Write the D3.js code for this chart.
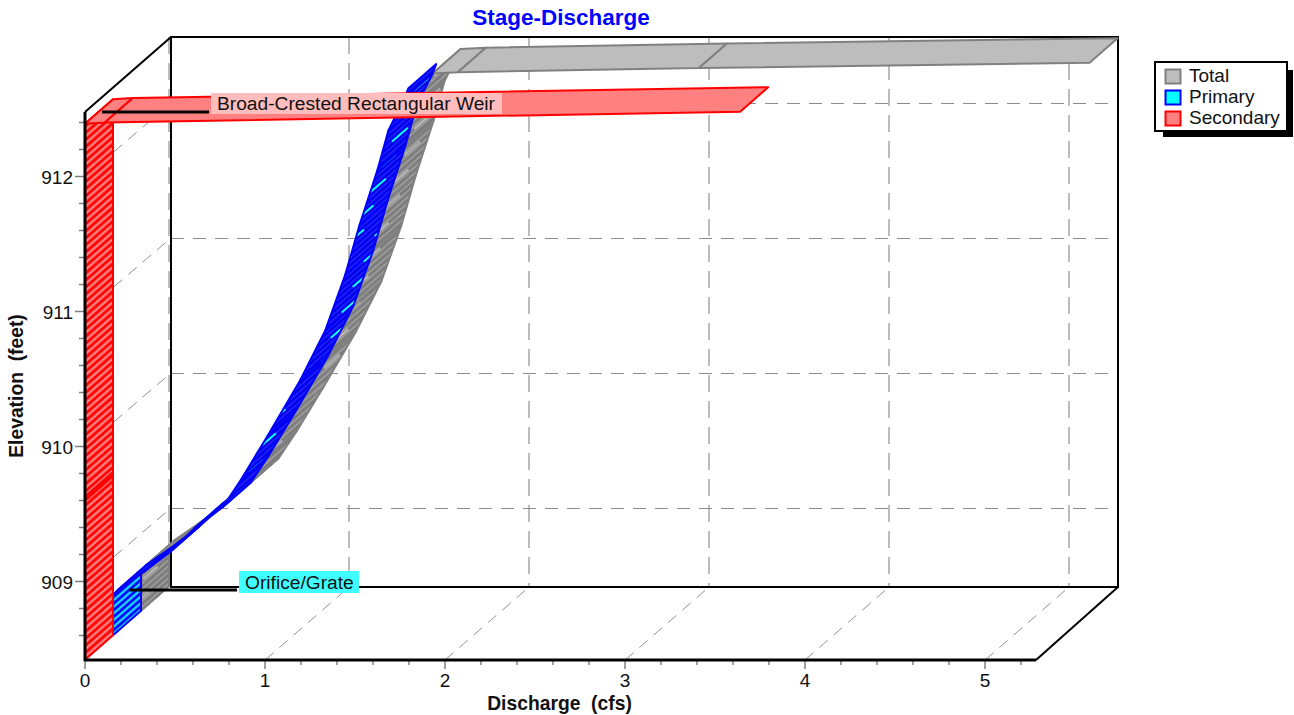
<!DOCTYPE html>
<html>
<head>
<meta charset="utf-8"/>
<title>Stage-Discharge</title>
<script src="https://d3js.org/d3.v7.min.js"></script>
<style>
  body { margin: 0; background: white; }
  text { font-family: "Liberation Sans", Arial, sans-serif; fill: #111; }
</style>
</head>
<body>
<svg id="chart" width="1294" height="715"></svg>
<script>
// values: discharge (cfs) against elevation (feet)
var primaryElev = [908.42, 908.72, 908.76, 908.89, 909.04, 909.21, 909.37, 909.57, 909.90, 910.31, 910.68, 911.09, 911.46, 911.87, 912.16, 912.40, 912.47];
var primaryQ    = [0, 0, 0.03, 0.17, 0.32, 0.45, 0.61, 0.71, 0.86, 1.04, 1.18, 1.29, 1.37, 1.47, 1.53, 1.62, 1.64];

var secondaryElev = [908.42, 909.60, 909.63, 912.39, 912.40, 912.48];
var secondaryQ    = [0, 0, 0, 0, 0.11, 3.64];

var totalElev = [908.42, 908.72, 908.76, 908.89, 909.04, 909.21, 909.37, 909.57, 909.90, 910.31, 910.68, 911.09, 911.46, 911.87, 912.16, 912.40, 912.41, 912.44, 912.48];
var totalQ    = [0, 0, 0.03, 0.17, 0.32, 0.45, 0.61, 0.71, 0.86, 1.04, 1.18, 1.29, 1.37, 1.47, 1.53, 1.62, 1.76, 3.10, 5.27];

var seriesNames = ["Total", "Primary", "Secondary"];
var xTicks = [0, 1, 2, 3, 4, 5];
var yTicks = [909, 910, 911, 912];
var xMinor = d3.range(0, 5.3, 0.2);
var yMinor = d3.range(908.6, 912.5, 0.2);

var svg = d3.select("#chart");

// front face of the box and the back wall
var xFront = d3.scaleLinear([0, 5], [85, 985]);
var xBack  = d3.scaleLinear([0, 5], [169, 1069]);
var yFront = d3.scaleLinear([909, 912], [581.5, 176.5]);
var yBack  = d3.scaleLinear([909, 912], [508, 103]);

// z goes 0 (front) to 1 (back wall)
function px(q, z) { return xFront(q) + z * (xBack(q) - xFront(q)); }
function py(e, z) { return yFront(e) + z * (yBack(e) - yFront(e)); }

var defs = svg.append("defs");

function hatch(id, base, line, pitch, lineWidth, streak) {
    var p = defs.append("pattern").attr("id", id)
        .attr("patternUnits", "userSpaceOnUse")
        .attr("width", 50).attr("height", pitch * 6)
        .attr("patternTransform", "rotate(-41)");
    p.append("rect").attr("width", 50).attr("height", pitch * 6).attr("fill", base);
    d3.range(6).forEach(function(k) {
        p.append("line").attr("x1", 0).attr("x2", 50).attr("y1", (k + 0.5) * pitch).attr("y2", (k + 0.5) * pitch)
            .attr("stroke", line).attr("stroke-width", lineWidth);
    });
    if (streak) {
        p.append("line").attr("x1", 3).attr("x2", 24).attr("y1", pitch).attr("y2", pitch)
            .attr("stroke", streak).attr("stroke-width", 2);
        p.append("line").attr("x1", 28).attr("x2", 47).attr("y1", pitch * 4).attr("y2", pitch * 4)
            .attr("stroke", streak).attr("stroke-width", 2);
    }
}
hatch("hatchTotal", "#7c7c7c", "#a2a2a2", 4.5, 1.5, "#b8b8b8");
hatch("hatchPrimary", "#1c1cff", "#0000e6", 4, 2, "#10ffff");
hatch("hatchSecondary", "#ff8080", "#ff0000", 5.3, 2.8, null);
hatch("hatchPrimaryLow", "#0000ff", "#20ffff", 5, 1.8, null);

// ---- back wall and floor grid
var grid = svg.append("g").attr("fill", "none");

xTicks.forEach(function(v) {
    grid.append("line").attr("x1", xBack(v)).attr("x2", xBack(v)).attr("y1", 37).attr("y2", 587)
        .attr("stroke", "#bcbcbc").attr("stroke-width", 2).attr("stroke-dasharray", "17,9");
    grid.append("line").attr("x1", xFront(v)).attr("y1", 660).attr("x2", xBack(v)).attr("y2", 587)
        .attr("stroke", "#909090").attr("stroke-width", 1).attr("stroke-dasharray", "11,8");
});
yTicks.forEach(function(v) {
    grid.append("line").attr("x1", 171).attr("x2", 1118).attr("y1", yBack(v) + 0.5).attr("y2", yBack(v) + 0.5)
        .attr("stroke", "#8c8c8c").attr("stroke-width", 1).attr("stroke-dasharray", "13,9");
    grid.append("line").attr("x1", 85).attr("y1", yFront(v)).attr("x2", 171).attr("y2", yBack(v))
        .attr("stroke", "#909090").attr("stroke-width", 1).attr("stroke-dasharray", "11,8");
});

// ---- box
var box = svg.append("g").attr("stroke", "#000").attr("fill", "none");
box.append("rect").attr("x", 171).attr("y", 37).attr("width", 947).attr("height", 550).attr("stroke-width", 2);
box.append("line").attr("x1", 85).attr("y1", 112).attr("x2", 171).attr("y2", 37).attr("stroke-width", 2);
box.append("line").attr("x1", 1036).attr("y1", 660).attr("x2", 1118).attr("y2", 587).attr("stroke-width", 2);

// ---- ribbons, back to front. each pair of points makes one quad
function ribbon(elev, q, z0, z1, flat, stroke, hatchId) {
    var g = svg.append("g");
    for (var i = 0; i < q.length - 1; i++) {
        var pts = [[px(q[i], z0), py(elev[i], z0)], [px(q[i + 1], z0), py(elev[i + 1], z0)],
                   [px(q[i + 1], z1), py(elev[i + 1], z1)], [px(q[i], z1), py(elev[i], z1)]];
        var isSlab = (q[i + 1] - q[i]) > 0.09 && (elev[i + 1] - elev[i]) < 0.1;
        var fill = isSlab ? flat : "url(#" + (i == 0 && hatchId == "hatchPrimary" ? "hatchPrimaryLow" : hatchId) + ")";
        g.append("polygon").attr("points", pts.join(" "))
            .attr("fill", fill).attr("stroke", stroke).attr("stroke-width", 2)
            .attr("stroke-linejoin", "round");
    }
}
ribbon(totalElev, totalQ, 2 / 3, 1, "#bdbdbd", "#808080", "hatchTotal");
ribbon(primaryElev, primaryQ, 1 / 3, 2 / 3, "#00ffff", "#0000ff", "hatchPrimary");
ribbon(secondaryElev, secondaryQ, 0, 1 / 3, "#ff8080", "#ff0000", "hatchSecondary");

// ---- front axes
var axes = svg.append("g");
xMinor.forEach(function(v) {
    var major = Math.abs(v - Math.round(v)) < 0.01;
    axes.append("line").attr("x1", xFront(v)).attr("x2", xFront(v)).attr("y1", 660).attr("y2", major ? 669 : 665)
        .attr("stroke", "#808080").attr("stroke-width", 1.5);
});
yMinor.forEach(function(v) {
    var major = Math.abs(v - Math.round(v)) < 0.01;
    axes.append("line").attr("x1", major ? 75 : 79).attr("x2", 85).attr("y1", yFront(v)).attr("y2", yFront(v))
        .attr("stroke", "#808080").attr("stroke-width", 1.5);
});
axes.append("line").attr("x1", 85).attr("x2", 85).attr("y1", 112).attr("y2", 661).attr("stroke", "#000").attr("stroke-width", 3);
axes.append("line").attr("x1", 84).attr("x2", 1036).attr("y1", 660).attr("y2", 660).attr("stroke", "#000").attr("stroke-width", 3);

axes.selectAll(".xl").data(xTicks).enter().append("text")
    .attr("x", d => xFront(d)).attr("y", 687).attr("text-anchor", "middle")
    .attr("font-size", 19).text(d => d);
axes.selectAll(".yl").data(yTicks).enter().append("text")
    .attr("x", 73).attr("y", d => yFront(d) + 7).attr("text-anchor", "end")
    .attr("font-size", 19).text(d => d);

// ---- titles
svg.append("text").attr("x", 561).attr("y", 25).attr("text-anchor", "middle")
    .attr("font-size", 22.5).attr("font-weight", "bold").style("fill", "#0000ff").text("Stage-Discharge");
svg.append("text").attr("x", 559.5).attr("y", 710).attr("text-anchor", "middle").attr("xml:space", "preserve")
    .attr("font-size", 19.3).attr("font-weight", "bold").text("Discharge  (cfs)");
svg.append("text").attr("transform", "translate(23,386) rotate(-90)").attr("text-anchor", "middle").attr("xml:space", "preserve")
    .attr("font-size", 19.3).attr("font-weight", "bold").text("Elevation  (feet)");

// ---- callouts
svg.append("rect").attr("x", 211).attr("y", 93).attr("width", 291).attr("height", 21).attr("fill", "#ffbdbd");
svg.append("line").attr("x1", 102).attr("x2", 209).attr("y1", 112).attr("y2", 112).attr("stroke", "#000").attr("stroke-width", 3);
svg.append("text").attr("x", 217).attr("y", 110).attr("font-size", 19.2).text("Broad-Crested Rectangular Weir");

svg.append("rect").attr("x", 239).attr("y", 571).attr("width", 120).attr("height", 22).attr("fill", "#40ffff");
svg.append("line").attr("x1", 130).attr("x2", 237).attr("y1", 590).attr("y2", 590).attr("stroke", "#000").attr("stroke-width", 3);
svg.append("text").attr("x", 245).attr("y", 589).attr("font-size", 19.2).text("Orifice/Grate");

// ---- legend
var legendFill = ["#bdbdbd", "#00ffff", "#ff8080"];
var legendStroke = ["#808080", "#0000ff", "#ff0000"];
var legend = svg.append("g");
legend.append("rect").attr("x", 1163).attr("y", 70).attr("width", 130).attr("height", 67).attr("fill", "#000");
legend.append("rect").attr("x", 1155).attr("y", 62).attr("width", 132).attr("height", 69).attr("fill", "#fff").attr("stroke", "#000").attr("stroke-width", 2);
seriesNames.forEach(function(name, i) {
    legend.append("rect").attr("x", 1165.5).attr("y", 69.5 + i * 21).attr("width", 15).attr("height", 14)
        .attr("fill", legendFill[i]).attr("stroke", legendStroke[i]).attr("stroke-width", 2);
    legend.append("text").attr("x", 1189).attr("y", 82 + i * 21).attr("font-size", 19).text(name);
});
</script>
</body>
</html>
